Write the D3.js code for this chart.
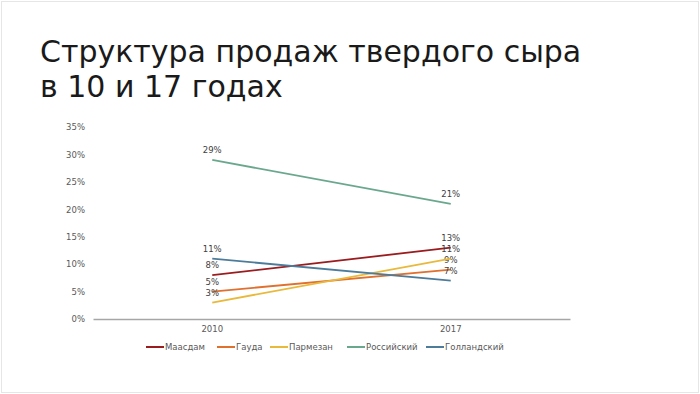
<!DOCTYPE html>
<html><head><meta charset="utf-8">
<script src="https://cdn.jsdelivr.net/npm/d3@7"></script>
<style>html,body{margin:0;padding:0;background:#fff;}svg{display:block;}</style>
</head><body>
<svg id="c" width="700" height="394"></svg>
<script>
const categories = ["2010", "2017"];
const seriesNames = ["Маасдам", "Гауда", "Пармезан", "Российский", "Голландский"];
const maasdam = [8, 13];
const gauda = [5, 9];
const parmezan = [3, 11];
const rossiysky = [29, 21];
const gollandsky = [11, 7];
const yTicks = [0, 5, 10, 15, 20, 25, 30, 35];
const colors = ["#9b1c1f", "#e0702e", "#e9b93c", "#6aa88e", "#4d7c9a"];
const titleLines = ["Структура продаж твердого сыра", "в 10 и 17 годах"];

const seriesValues = [maasdam, gauda, parmezan, rossiysky, gollandsky];
const svg = d3.select("#c");
const font = "'DejaVu Sans', sans-serif";

svg.append("rect").attr("x", 1.5).attr("y", 1.5).attr("width", 697).attr("height", 391)
  .attr("fill", "#fff").attr("stroke", "#e6e6e6");

svg.selectAll("text.title").data(titleLines).enter().append("text")
  .attr("x", 40).attr("y", (d, i) => 62 + i * 35)
  .attr("font-family", font).attr("font-size", 30).attr("fill", "#1a1a1a")
  .text(d => d);

const x = d3.scaleBand().domain(categories).range([93, 570]);
const y = d3.scaleLinear().domain([0, 35]).range([319, 127]);
const cx = d => x(d) + x.bandwidth() / 2;

// y tick labels
const yAxis = d3.axisLeft(y).tickValues(yTicks).tickFormat(d => d + "%").tickSize(0).tickPadding(8);
const ya = svg.append("g").attr("transform", "translate(93,0)").call(yAxis);
ya.select(".domain").remove();
ya.selectAll("text").attr("font-family", font).attr("font-size", 8.5).attr("fill", "#595959");

// x axis
const xAxis = d3.axisBottom(x).tickSize(0).tickPadding(7);
const xa = svg.append("g").attr("transform", "translate(0,319)").call(xAxis);
xa.select(".domain").attr("stroke", "#a6a6a6").attr("stroke-width", 1.5);
xa.selectAll("text").attr("font-family", font).attr("font-size", 8.5).attr("fill", "#595959");

const line = d3.line().x((d, i) => cx(categories[i])).y(d => y(d));
seriesValues.forEach((vals, si) => {
  svg.append("path").datum(vals).attr("d", line).attr("fill", "none")
    .attr("stroke", colors[si]).attr("stroke-width", 1.8);
  svg.selectAll(null).data(vals).enter().append("text")
    .attr("x", (d, i) => cx(categories[i]))
    .attr("y", d => y(d) - 7)
    .attr("text-anchor", "middle")
    .attr("font-family", font).attr("font-size", 8.5).attr("fill", "#404040")
    .text(d => d + "%");
});

// legend
const legendX = [146, 217, 270, 347, 426];
const lg = svg.append("g");
seriesNames.forEach((n, i) => {
  lg.append("line").attr("x1", legendX[i]).attr("x2", legendX[i] + 18)
    .attr("y1", 347).attr("y2", 347).attr("stroke", colors[i]).attr("stroke-width", 2);
  lg.append("text").attr("x", legendX[i] + 19).attr("y", 350)
    .attr("font-family", font).attr("font-size", 8.5).attr("fill", "#595959").text(n);
});
</script>
</body></html>
